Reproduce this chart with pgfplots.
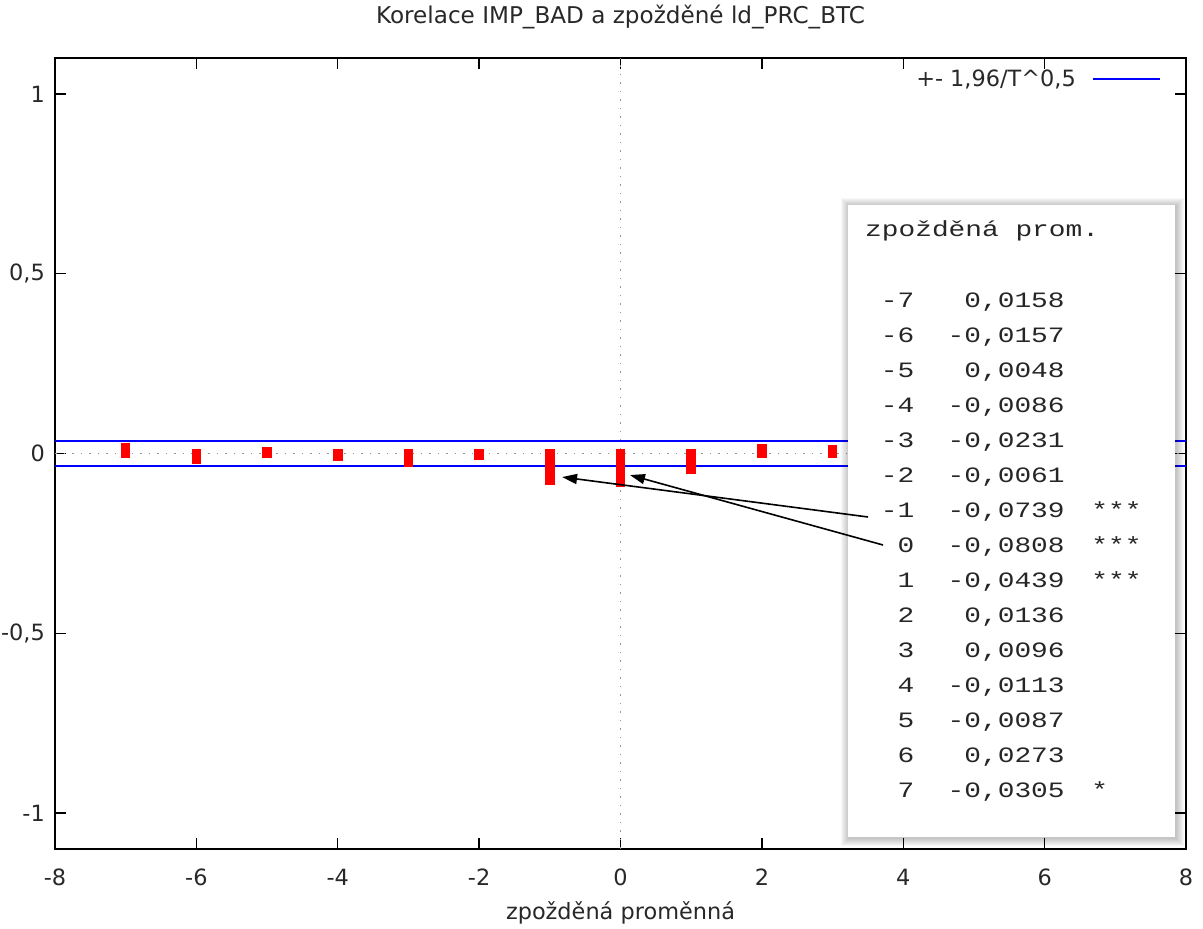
\documentclass[border=0pt]{standalone}
\usepackage{fontspec}
\setmainfont{DejaVu Sans}
\newfontfamily\monof{Liberation Mono}[WordSpace={1,0,0}]
\usepackage{graphicx}
\usepackage{pgfplots}
\pgfplotsset{compat=1.18}
\usetikzlibrary{arrows.meta}
\definecolor{txt}{RGB}{40,40,40}
\definecolor{dotgray}{RGB}{150,150,150}
\definecolor{pblue}{RGB}{0,0,255}
\definecolor{pred}{RGB}{255,0,0}
\newcommand{\fs}{\fontsize{22.5}{27}\selectfont}
\newcommand{\ms}[1]{\scalebox{1.27}[1]{\monof\fontsize{22}{26}\selectfont\color{black!85}#1}}
\newcommand{\st}[1]{\kern8bp #1}
\begin{document}
\begin{tikzpicture}
\begin{axis}[
  at={(55bp,80bp)}, anchor=south west,
  scale only axis, width=1131bp, height=791bp,
  xmin=-8, xmax=8, ymin=-1.1, ymax=1.1,
  xtick={-8,-6,...,8}, ytick={-1,-0.5,0,0.5,1},
  /pgf/number format/use comma,
  /pgf/number format/assume math mode=true,
  tick align=inside, major tick length=11bp,
  every tick/.style={black, line width=1.3bp},
  axis line style={line width=1.3bp},
  tick label style={font=\fs, text=txt},
  xticklabel style={anchor=base, inner sep=0pt, yshift=-37bp},
  yticklabel style={anchor=east, inner sep=0pt, xshift=-10bp},
  title={Korelace IMP\_BAD a zpožděné ld\_PRC\_BTC},
  title style={at={(axis description cs:0.5,1)}, anchor=base, yshift=29bp, font=\fontsize{23.2}{28}\selectfont, text=txt, inner sep=0pt},
  xlabel={zpožděná proměnná},
  xlabel style={at={(axis description cs:0.5,0)}, anchor=base, yshift=-70bp, font=\fs, text=txt, inner sep=0pt},
  legend plot pos=right,
  legend style={draw=none, fill=none, at={(axis description cs:1,1)}, anchor=north east,
    xshift=-22bp, yshift=-8bp, font=\fs, text=txt},
  legend image code/.code={\path (0bp,0bp); \draw[#1] (14bp,0bp) -- (81bp,0bp);},
]
\draw[dotgray, line width=1.2bp, dash pattern=on 1.5bp off 7bp] (axis cs:-8,0) -- (axis cs:8,0);
\draw[dotgray, line width=1.2bp, dash pattern=on 1.5bp off 7bp] (axis cs:0,-1.1) -- (axis cs:0,1.1);
\addplot[draw=pblue, color=pblue, line width=2bp, mark=none] coordinates {(-8,0.0335) (8,0.0335)};
\addlegendentry{+- 1,96/T\textasciicircum 0,5}
\addplot[draw=pblue, color=pblue, line width=2bp, mark=none, forget plot] coordinates {(-8,-0.0335) (8,-0.0335)};
\addplot[ycomb, draw=pred, color=pred, line width=9.5bp, line cap=rect, mark=none, forget plot] coordinates {
(-7,0.0158) (-6,-0.0157) (-5,0.0048) (-4,-0.0086) (-3,-0.0231) (-2,-0.0061) (-1,-0.0739)
(0,-0.0808) (1,-0.0439) (2,0.0136) (3,0.0096) (4,-0.0113) (5,-0.0087) (6,0.0273) (7,-0.0305)};
\coordinate (tipA) at (axis cs:-0.827,-0.0655);
\coordinate (tipB) at (axis cs:0.134,-0.060);
\end{axis}
% inset table with shadow
\foreach \i in {1,...,8}
  \draw[black, opacity=0.03, line width=\i*2bp] (849bp,91bp) rectangle (1176bp,723bp);
\fill[white] (848bp,92bp) rectangle (1175bp,724bp);
\node[anchor=base west, inner sep=0pt] at (865bp,692bp) {\ms{zpožděná~prom.}};
\node[anchor=base west, inner sep=0pt] at (864bp,621bp) {\ms{~-7~~~0,0158}};
\node[anchor=base west, inner sep=0pt] at (864bp,586bp) {\ms{~-6~~-0,0157}};
\node[anchor=base west, inner sep=0pt] at (864bp,551bp) {\ms{~-5~~~0,0048}};
\node[anchor=base west, inner sep=0pt] at (864bp,516bp) {\ms{~-4~~-0,0086}};
\node[anchor=base west, inner sep=0pt] at (864bp,481bp) {\ms{~-3~~-0,0231}};
\node[anchor=base west, inner sep=0pt] at (864bp,446bp) {\ms{~-2~~-0,0061}};
\node[anchor=base west, inner sep=0pt] at (864bp,411bp) {\ms{~-1~~-0,0739~\st{***}}};
\node[anchor=base west, inner sep=0pt] at (864bp,376bp) {\ms{~~0~~-0,0808~\st{***}}};
\node[anchor=base west, inner sep=0pt] at (864bp,341bp) {\ms{~~1~~-0,0439~\st{***}}};
\node[anchor=base west, inner sep=0pt] at (864bp,306bp) {\ms{~~2~~~0,0136}};
\node[anchor=base west, inner sep=0pt] at (864bp,271bp) {\ms{~~3~~~0,0096}};
\node[anchor=base west, inner sep=0pt] at (864bp,236bp) {\ms{~~4~~-0,0113}};
\node[anchor=base west, inner sep=0pt] at (864bp,201bp) {\ms{~~5~~-0,0087}};
\node[anchor=base west, inner sep=0pt] at (864bp,166bp) {\ms{~~6~~~0,0273}};
\node[anchor=base west, inner sep=0pt] at (864bp,131bp) {\ms{~~7~~-0,0305~\st{*}}};
% arrows
\draw[line width=1.6bp, -{Triangle[length=15bp,width=10bp]}] (868bp,412bp) -- (tipA);
\draw[line width=1.6bp, -{Triangle[length=15bp,width=10bp]}] (883bp,384bp) -- (tipB);
\pgfresetboundingbox
\useasboundingbox (0bp,0bp) rectangle (1203bp,929bp);
\end{tikzpicture}
\end{document}
